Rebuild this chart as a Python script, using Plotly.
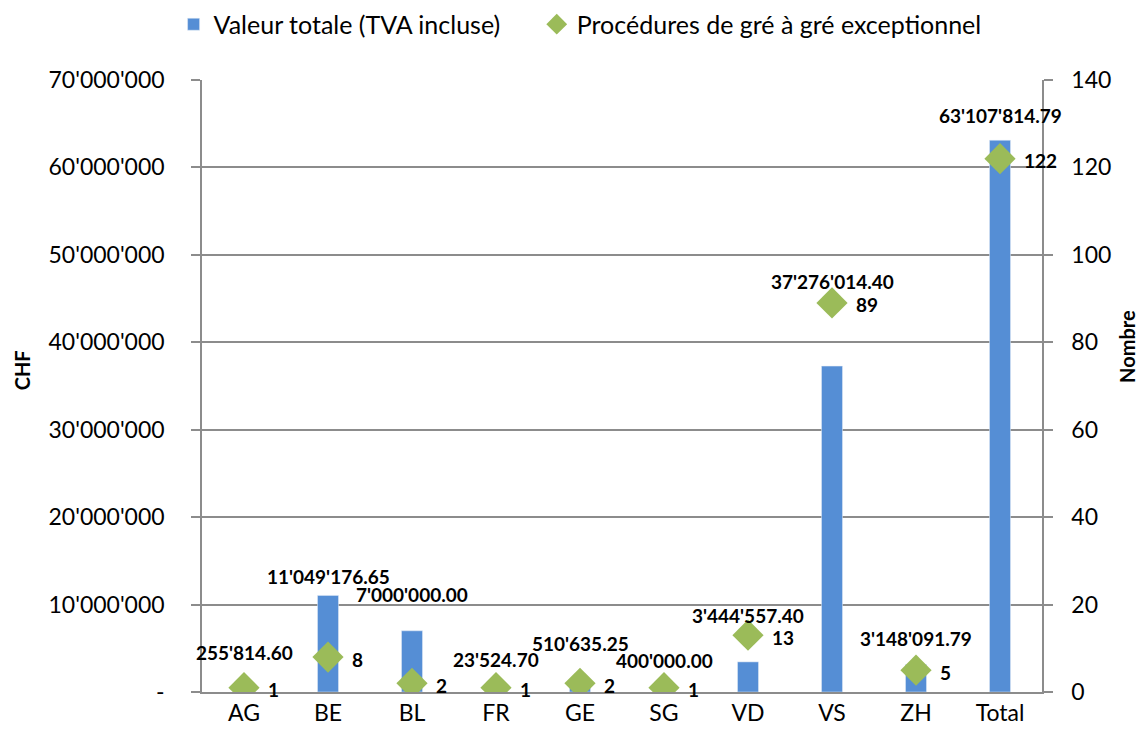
import plotly.graph_objects as go

categories = ["AG", "BE", "BL", "FR", "GE", "SG", "VD", "VS", "ZH", "Total"]
valeur_totale = [255814.60, 11049176.65, 7000000.00, 23524.70, 510635.25,
                 400000.00, 3444557.40, 37276014.40, 3148091.79, 63107814.79]
procedures = [1, 8, 2, 1, 2, 1, 13, 89, 5, 122]
valeur_labels = ["255'814.60", "11'049'176.65", "7'000'000.00", "23'524.70", "510'635.25",
                 "400'000.00", "3'444'557.40", "37'276'014.40", "3'148'091.79", "63'107'814.79"]
left_tickvals = [0, 10e6, 20e6, 30e6, 40e6, 50e6, 60e6, 70e6]
left_ticktext = ["-", "10'000'000", "20'000'000", "30'000'000", "40'000'000",
                 "50'000'000", "60'000'000", "70'000'000"]
right_tickvals = [0, 20, 40, 60, 80, 100, 120, 140]

# vertical pixel offsets of the value labels (style only)
label_yshift = [37, 19, 36, 32, 44, 28, 46, 85, 26, 25]

FONT = "Lato"
GRID = "#8c8c8c"
BLUE = "#558ED5"
GREEN = "#9BBB59"

fig = go.Figure()
fig.add_trace(go.Bar(
    x=categories, y=valeur_totale, name="Valeur totale (TVA incluse)",
    marker=dict(color=BLUE), width=0.25, yaxis="y", legend="legend",
))
fig.add_trace(go.Scatter(
    x=categories, y=procedures, name="Procédures de gré à gré exceptionnel",
    mode="markers", marker=dict(symbol="diamond", size=24, color=GREEN),
    yaxis="y2", legend="legend2",
))

annotations = []
for c, v, lab, ys in zip(categories, valeur_totale, valeur_labels, label_yshift):
    annotations.append(dict(
        x=c, y=v, xref="x", yref="y", text=lab, showarrow=False,
        yshift=ys, xanchor="center", yanchor="middle",
        font=dict(family=FONT, size=19, color="black", weight="bold"),
    ))
for c, n in zip(categories, procedures):
    annotations.append(dict(
        x=c, y=n, xref="x", yref="y2", text=str(n), showarrow=False,
        xshift=22, yshift=-2, xanchor="left", yanchor="middle",
        font=dict(family=FONT, size=19, color="black", weight="bold"),
    ))
annotations.append(dict(
    x=-0.214, y=0.526, xref="paper", yref="paper", text="CHF", textangle=-90,
    showarrow=False, xanchor="center", yanchor="middle",
    font=dict(family=FONT, size=20, color="black", weight="bold"),
))
annotations.append(dict(
    x=1.102, y=0.565, xref="paper", yref="paper", text="Nombre", textangle=-90,
    showarrow=False, xanchor="center", yanchor="middle",
    font=dict(family=FONT, size=20, color="black", weight="bold"),
))

legend_common = dict(
    orientation="h", y=0.998, xref="container", yref="container",
    xanchor="left", yanchor="top", font=dict(family=FONT, size=25),
    itemwidth=30, bgcolor="rgba(0,0,0,0)",
)

fig.update_layout(
    width=1142, height=736,
    margin=dict(l=202, r=100, t=80, b=44, autoexpand=False),
    paper_bgcolor="white", plot_bgcolor="white",
    font=dict(family=FONT, size=23, color="black"),
    showlegend=True,
    legend=dict(x=0.152, **legend_common),
    legend2=dict(x=0.470, **legend_common),
    xaxis=dict(
        type="category", showgrid=False, showline=True, linecolor=GRID, linewidth=1.5,
        ticks="", tickfont=dict(family=FONT, size=23), range=[-0.5, 9.5],
    ),
    yaxis=dict(
        range=[0, 70e6], tickvals=left_tickvals, ticktext=left_ticktext,
        showgrid=True, gridcolor=GRID, gridwidth=1.5, showline=True, linecolor=GRID,
        linewidth=1.5, ticks="outside", ticklen=9, tickcolor=GRID, tickwidth=1.5,
        tickfont=dict(family=FONT, size=23), zeroline=False,
        ticklabelstandoff=22,
    ),
    yaxis2=dict(
        range=[0, 140], tickvals=right_tickvals, overlaying="y", side="right",
        showgrid=False, showline=True, linecolor=GRID, linewidth=1.5,
        ticks="outside", ticklen=9, tickcolor=GRID, tickwidth=1.5,
        tickfont=dict(family=FONT, size=23), zeroline=False,
        ticklabelstandoff=14,
    ),
    annotations=annotations,
)

fig.write_html("out.html", config={"displayModeBar": False},
               post_script="document.body.style.margin='0px';")
